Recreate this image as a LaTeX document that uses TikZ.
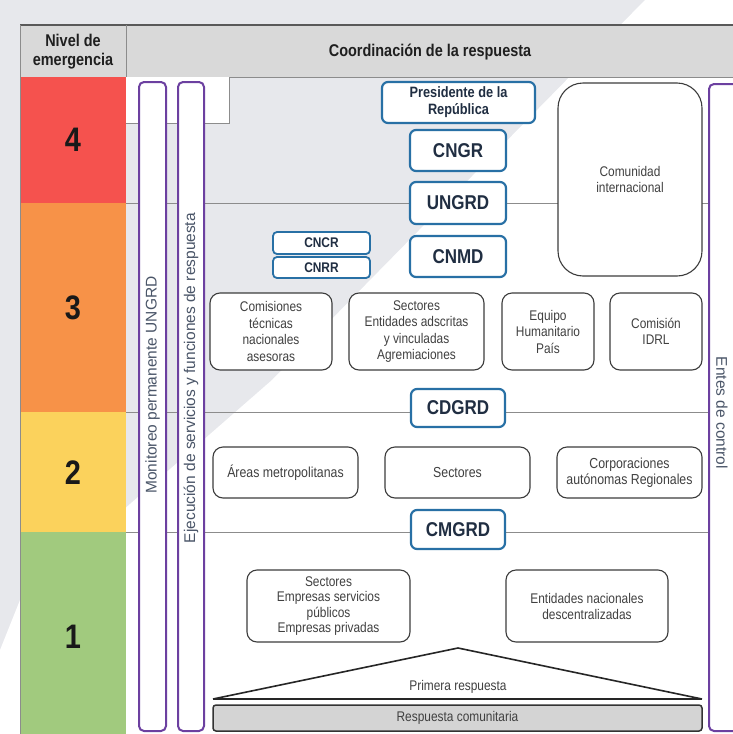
\documentclass[tikz,border=0pt]{standalone}
\usepackage{fontspec}
\setmainfont{Liberation Sans}[FakeStretch=0.85]
\newfontfamily\widefont{Liberation Sans}
\definecolor{bggray}{RGB}{231,232,236}
\definecolor{hdrgray}{RGB}{217,217,217}
\definecolor{lvred}{RGB}{245,82,78}
\definecolor{lvorange}{RGB}{247,146,72}
\definecolor{lvyellow}{RGB}{251,210,92}
\definecolor{lvgreen}{RGB}{161,202,126}
\definecolor{bluec}{RGB}{40,112,165}
\definecolor{navy}{RGB}{32,46,66}
\definecolor{boxline}{RGB}{60,60,60}
\definecolor{boxtext}{RGB}{64,64,64}
\definecolor{purplec}{RGB}{108,64,160}
\definecolor{bartext}{RGB}{74,85,104}
\definecolor{linegray}{RGB}{140,140,140}
\definecolor{barfill}{RGB}{212,212,212}
\tikzset{
  bluebox/.style={draw=bluec, line width=2.2pt, fill=white, rounded corners=6pt,
    text=navy, inner sep=0pt, align=center, font=\fontsize{20}{22}\selectfont\bfseries},
  graybox/.style={draw=boxline, line width=1.1pt, fill=white, rounded corners=10pt,
    text=boxtext, inner sep=0pt, align=center, font=\fontsize{14}{16.5}\selectfont},
  purplebar/.style={draw=purplec, line width=2pt, fill=white, rounded corners=5pt, inner sep=0pt},
  bartxt/.style={text=bartext, font=\widefont\fontsize{15.5}{17}\selectfont, inner sep=0pt},
  levelnum/.style={font=\fontsize{34}{36}\selectfont\bfseries, text=black!90},
  hdrtxt/.style={font=\fontsize{17}{19}\selectfont\bfseries, text=black!88, align=center},
  hline/.style={draw=linegray, line width=0.9pt},
}
\begin{document}
\begin{tikzpicture}[x=1pt,y=-1pt]
\useasboundingbox (0,0) rectangle (733,734);
\clip (0,0) rectangle (733,734);
% background with diagonal watermark band
\fill[bggray] (0,0) rectangle (733,734);
\fill[white] (645,0) -- (733,0) -- (733,734) -- (0,734) -- (0,650) -- (20,600) -- (272,380) -- cycle;
% header
\fill[hdrgray] (20,25) rectangle (733,77);
\draw[black!65, line width=1.2pt] (20,25) -- (733,25);
\draw[linegray, line width=0.8pt] (20,77) -- (733,77);
\draw[linegray, line width=0.8pt] (126,25) -- (126,77);
\draw[linegray, line width=0.8pt] (20,25) -- (20,734);
\node[hdrtxt] (nivel) at (73,52) {Nivel de\\emergencia};
\node[hdrtxt] (coord) at (430,52) {Coordinación de la respuesta};
% level cells
\fill[lvred] (21,77) rectangle (126,203);
\fill[lvorange] (21,203) rectangle (126,412);
\fill[lvyellow] (21,412) rectangle (126,532);
\fill[lvgreen] (21,532) rectangle (126,734);
\node[levelnum] (n4) at (73,140) {4};
\node[levelnum] (n3) at (73,308) {3};
\node[levelnum] (n2) at (73,473) {2};
\node[levelnum] (n1) at (73,637) {1};
% white corner rectangle
\fill[white] (126,77) rectangle (229,123);
\draw[linegray, line width=0.6pt] (229,77) -- (229,123) -- (126,123);
% level divider lines
\draw[hline] (126,203) -- (709,203);
\draw[hline] (126,412) -- (709,412);
\draw[hline] (126,532) -- (709,532);
% side bars
\node[purplebar, minimum width=27pt, minimum height=649pt] (mon) at (152.5,406.5) {};
\node[purplebar, minimum width=26pt, minimum height=649pt] (ejec) at (191,406.5) {};
\node[purplebar, minimum width=36pt, minimum height=647pt] (entes) at (727,407.5) {};
\node[bartxt, rotate=90] (montxt) at (152.5,385) {Monitoreo permanente UNGRD};
\node[bartxt, rotate=90] (ejectxt) at (191,378) {Ejecución de servicios y funciones de respuesta};
\node[bartxt, rotate=-90] (entestxt) at (722,413) {Entes de control};
% level 4 / 3 blue boxes
\node[bluebox, minimum width=153pt, minimum height=41pt, font=\fontsize{15}{17}\selectfont\bfseries] (pres) at (458.5,102.5) {Presidente de la\\República};
\node[bluebox, minimum width=96pt, minimum height=41pt] (cngr) at (458,150.5) {CNGR};
\node[bluebox, minimum width=96pt, minimum height=42pt] (ungrd) at (458,203) {UNGRD};
\node[bluebox, minimum width=96pt, minimum height=41pt] (cnmd) at (458,256.5) {CNMD};
\node[bluebox, line width=1.8pt, rounded corners=4pt, minimum width=97pt, minimum height=22pt, font=\fontsize{14}{16}\selectfont\bfseries] (cncr) at (321.5,243) {CNCR};
\node[bluebox, line width=1.8pt, rounded corners=4pt, minimum width=97pt, minimum height=21pt, font=\fontsize{14}{16}\selectfont\bfseries] (cnrr) at (321.5,267.5) {CNRR};
\node[graybox, rounded corners=25pt, minimum width=144pt, minimum height=193pt] (comun) at (630,179.5) {Comunidad\\internacional};
% level 3 gray boxes
\node[graybox, minimum width=122pt, minimum height=77pt] (comis) at (271,331.5) {Comisiones\\técnicas\\nacionales\\asesoras};
\node[graybox, minimum width=135pt, minimum height=77pt] (sect3) at (416.5,331.5) {Sectores\\Entidades adscritas\\y vinculadas\\Agremiaciones};
\node[graybox, minimum width=92pt, minimum height=77pt] (equipo) at (548,331.5) {Equipo\\Humanitario\\País};
\node[graybox, minimum width=92pt, minimum height=77pt] (idrl) at (656,331.5) {Comisión\\IDRL};
% level 2
\node[bluebox, minimum width=94pt, minimum height=38pt] (cdgrd) at (458,408) {CDGRD};
\node[graybox, minimum width=145pt, minimum height=51pt, font=\fontsize{14.5}{16.5}\selectfont] (areas) at (285.5,472.5) {Áreas metropolitanas};
\node[graybox, minimum width=145pt, minimum height=51pt, font=\fontsize{14.5}{16.5}\selectfont] (sect2) at (457.5,472.5) {Sectores};
\node[graybox, minimum width=145pt, minimum height=51pt, font=\fontsize{14.5}{16.5}\selectfont] (corp) at (629.5,472.5) {Corporaciones\\autónomas Regionales};
% level 1
\node[bluebox, minimum width=94pt, minimum height=39pt] (cmgrd) at (458,529.5) {CMGRD};
\node[graybox, minimum width=163pt, minimum height=72pt, font=\fontsize{14}{15.5}\selectfont] (sect1) at (328.5,606) {Sectores\\Empresas servicios\\públicos\\Empresas privadas};
\node[graybox, minimum width=162pt, minimum height=72pt, font=\fontsize{14}{16}\selectfont] (entid) at (587,606) {Entidades nacionales\\descentralizadas};
% triangle
\coordinate (apex) at (458,648);
\coordinate (tl) at (213,699);
\coordinate (tr) at (702,699);
\draw[black!85, line width=1.6pt, line join=round] (tl) -- (apex) -- (tr);
\draw[black!85, line width=2.6pt] (tl) -- (tr);
\node[text=boxtext, font=\fontsize{14}{16}\selectfont] (primera) at (458,687) {Primera respuesta};
\node[draw=black!80, line width=1.5pt, fill=barfill, rounded corners=3pt, minimum width=489pt, minimum height=26pt, inner sep=0pt, text=boxtext, font=\fontsize{14}{16}\selectfont] (comunit) at (457.5,718) {Respuesta comunitaria};
\end{tikzpicture}
\end{document}
